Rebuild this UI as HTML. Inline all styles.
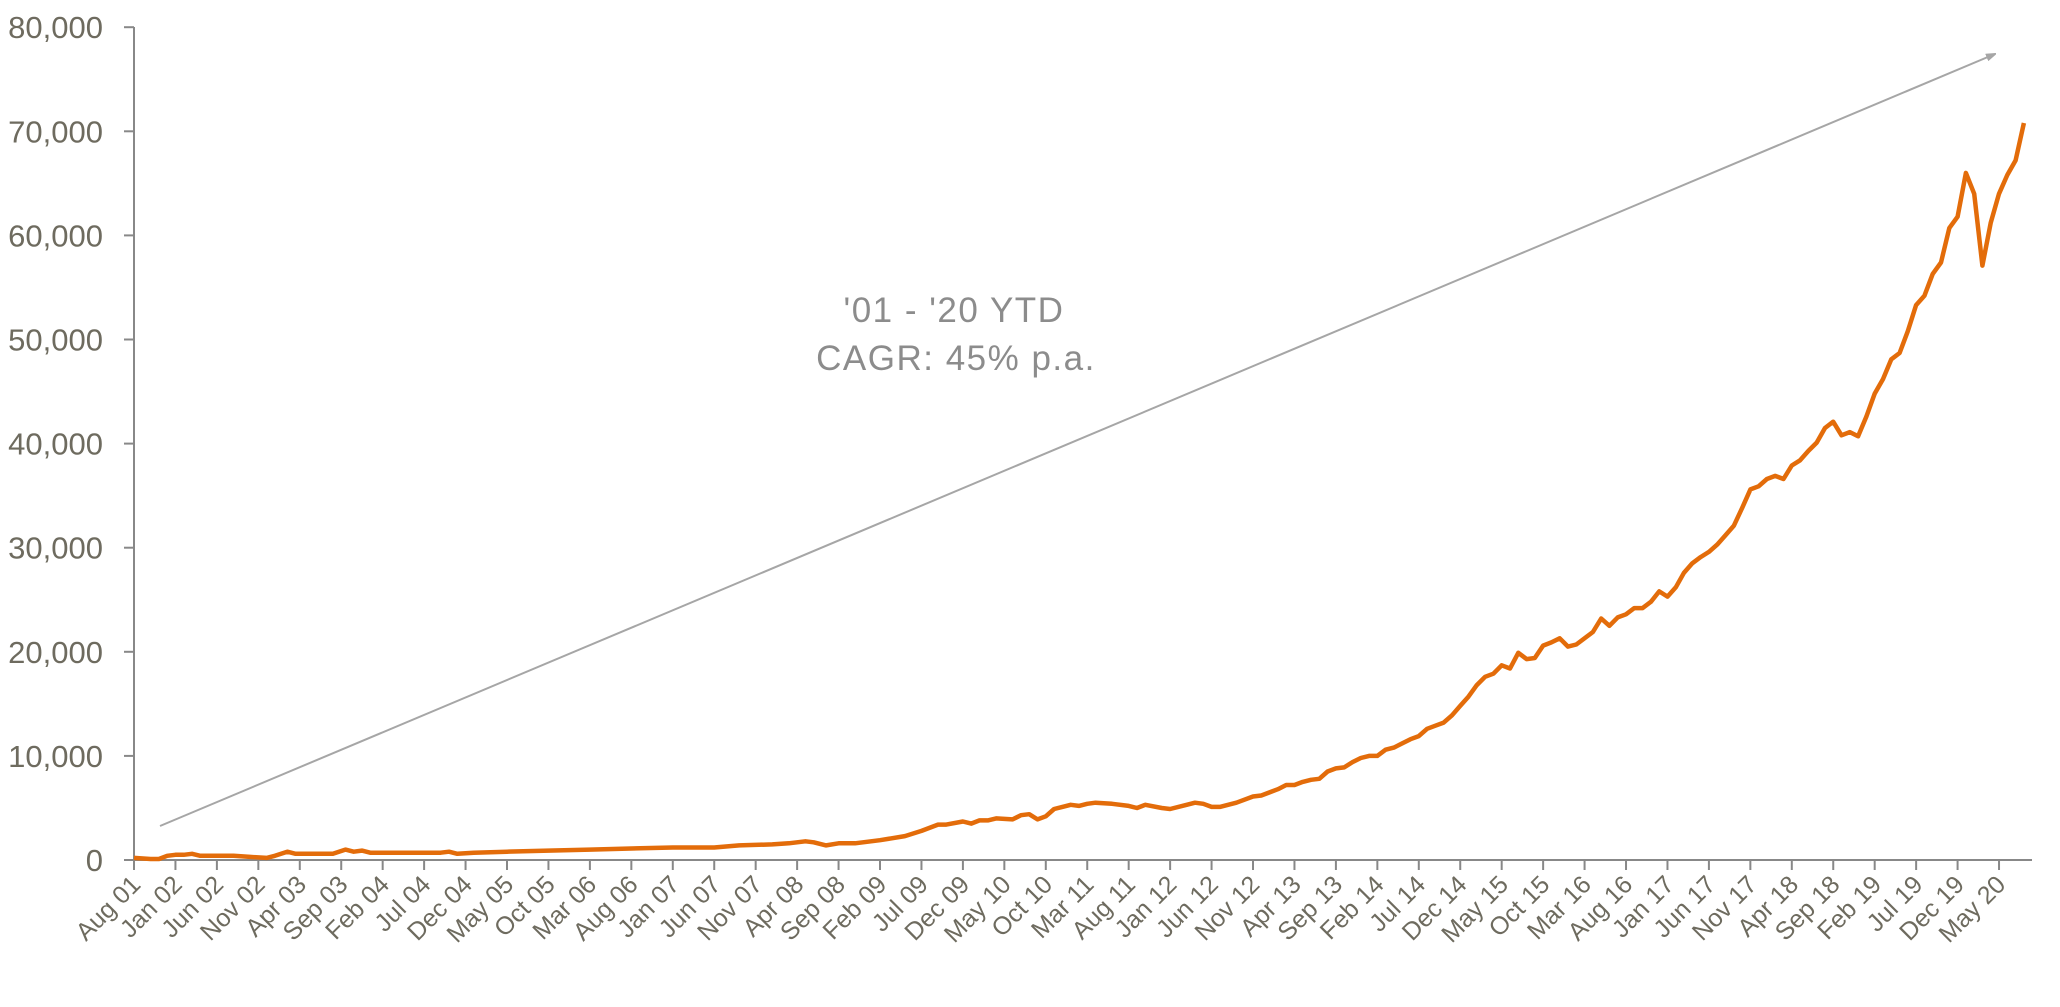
<!DOCTYPE html>
<html><head><meta charset="utf-8"><style>
html,body{margin:0;padding:0;background:#fff;}
svg{display:block;}
text{font-family:"Liberation Sans",Arial,sans-serif;}
</style></head><body>
<svg id="c" width="2060" height="1007" xmlns="http://www.w3.org/2000/svg">
<defs><marker id="ah" markerWidth="10" markerHeight="8" refX="9" refY="4" orient="auto" markerUnits="userSpaceOnUse"><path d="M0,0 L12,4 L0,8 z" fill="#a6a6a6"/></marker></defs>
<g id="yl" fill="#6e6b5f" font-size="31" text-anchor="end"></g>
<line x1="134" y1="27" x2="134" y2="860" stroke="#888" stroke-width="2"/>
<line x1="124" y1="860" x2="2032" y2="860" stroke="#888" stroke-width="2"/>
<g id="ticks" stroke="#888" stroke-width="2"></g>
<g id="xl" fill="#6e6b5f" font-size="25"></g>
<line x1="160" y1="826" x2="1995" y2="54" stroke="#a6a6a6" stroke-width="2" marker-end="url(#ah)"/>
<text x="954" y="322" font-size="35" letter-spacing="1.5" fill="#8c8c8c" text-anchor="middle">'01 - '20 YTD</text>
<text x="956" y="370" font-size="35" letter-spacing="1.5" fill="#8c8c8c" text-anchor="middle">CAGR: 45% p.a.</text>
<polyline id="ln" fill="none" stroke="#e36c0a" stroke-width="4.5" stroke-linejoin="round"/>
</svg>
<script>
var NS="http://www.w3.org/2000/svg";
function el(t,a,p,txt){var e=document.createElementNS(NS,t);for(var k in a)e.setAttribute(k,a[k]);if(txt!==undefined)e.textContent=txt;document.getElementById(p).appendChild(e);return e;}
var y0=860,py=104.1,x0=134,pm=8.289;
for(var i=0;i<=8;i++){var v=i*10000;var yy=y0-i*py;el('text',{x:103,y:yy+11},'yl',v?v.toLocaleString('en-US'):'0');el('line',{x1:124,y1:yy,x2:134,y2:yy},'ticks');}
var mons=['Jan','Feb','Mar','Apr','May','Jun','Jul','Aug','Sep','Oct','Nov','Dec'];
for(var k=0;k<46;k++){var m=7+k*5;var mo=m%12,yr=1+Math.floor(m/12);var x=x0+k*5*pm;
el('line',{x1:x,y1:860,x2:x,y2:870},'ticks');
el('text',{x:x+8,y:886,'text-anchor':'end',transform:'rotate(-45 '+(x+8)+' 886)'},'xl',mons[mo]+' '+(yr<10?'0'+yr:yr));}
var d=[[0,.2],[2,.1],[3,.1],[4,.4],[5,.5],[6,.5],[7,.6],[8,.4],[12,.4],[14,.3],[16,.2],[17,.4],[18.5,.8],[19.5,.6],[24,.6],[25.5,1.0],[26.5,.8],[27.5,.9],[28.5,.7],[37,.7],[38,.8],[39,.6],[41,.7],[45,.8],[50,.9],[55,1.0],[60,1.1],[65,1.2],[70,1.2],[73,1.4],[77,1.5],[79,1.6],[80,1.7],[81,1.8],[82,1.7],[83.5,1.4],[85,1.6],[87,1.6],[90,1.9],[93,2.3],[95,2.8],[97,3.4],[98,3.4],[100,3.7],[101,3.5],[102,3.8],[103,3.8],[104,4.0],[106,3.9],[107,4.3],[108,4.4],[109,3.9],[110,4.2],[111,4.9],[112,5.1],[113,5.3],[114,5.2],[115,5.4],[116,5.5],[118,5.4],[120,5.2],[121,5.0],[122,5.3],[124,5.0],[125,4.9],[127,5.3],[128,5.5],[129,5.4],[130,5.1],[131,5.1],[132,5.3],[133,5.5],[135,6.1],[136,6.2],[138,6.8],[139,7.2],[140,7.2],[141,7.5],[142,7.7],[143,7.8],[144,8.5],[145,8.8],[146,8.9],[147,9.4],[148,9.8],[149,10.0],[150,10.0],[151,10.6],[152,10.8],[153,11.2],[154,11.6],[155,11.9],[156,12.6],[157,12.9],[158,13.2],[159,13.9],[160,14.8],[161,15.7],[162,16.8],[163,17.6],[164,17.9],[165,18.7],[166,18.4],[167,19.9],[168,19.3],[169,19.4],[170,20.6],[171,20.9],[172,21.3],[173,20.5],[174,20.7],[176,21.9],[177,23.2],[178,22.5],[179,23.3],[180,23.6],[181,24.2],[182,24.2],[183,24.8],[184,25.8],[185,25.3],[186,26.2],[187,27.6],[188,28.5],[189,29.1],[190,29.6],[191,30.3],[192,31.2],[193,32.1],[194,33.8],[195,35.6],[196,35.9],[197,36.6],[198,36.9],[199,36.6],[200,37.9],[201,38.4],[202,39.3],[203,40.1],[204,41.5],[205,42.1],[206,40.8],[207,41.1],[208,40.7],[209,42.6],[210,44.8],[211,46.2],[212,48.1],[213,48.7],[214,50.8],[215,53.3],[216,54.2],[217,56.3],[218,57.4],[219,60.7],[220,61.8],[221,66.0],[222,64.0],[223,57.1],[224,61.2],[225,64.0],[226,65.8],[227,67.2],[228,70.8]];
var s='';for(var i=0;i<d.length;i++){s+=(x0+d[i][0]*pm).toFixed(1)+','+(y0-d[i][1]*py/10).toFixed(1)+' ';}
document.getElementById('ln').setAttribute('points',s);
</script>
</body></html>
